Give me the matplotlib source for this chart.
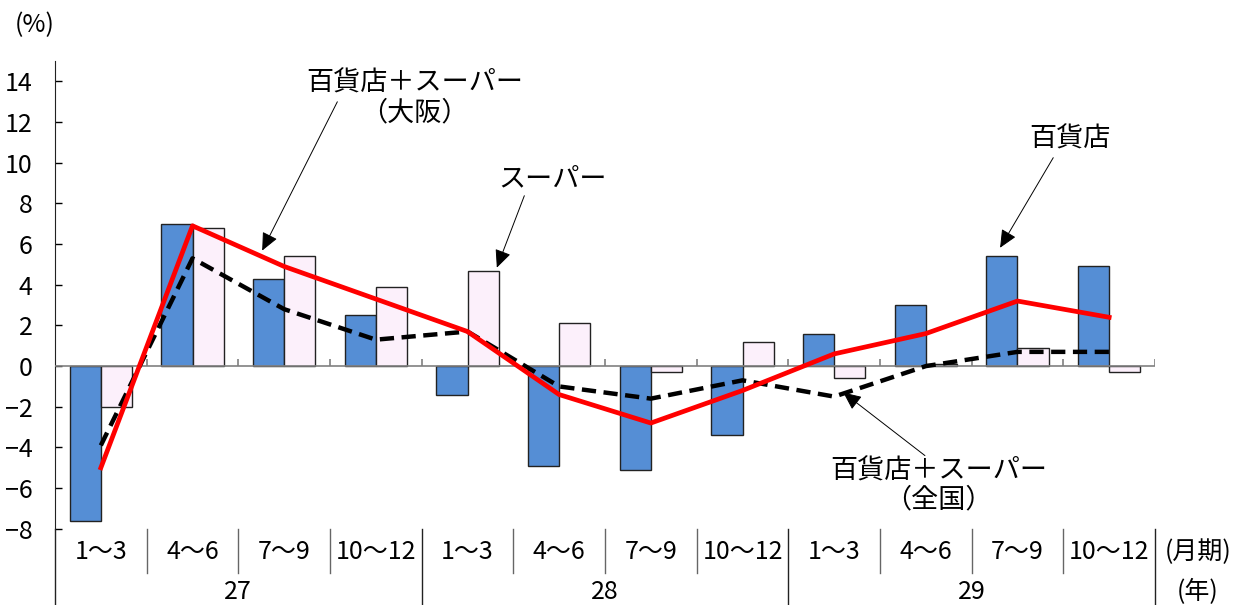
import numpy as np
import matplotlib
matplotlib.use("Agg")
import matplotlib.pyplot as plt
import matplotlib.transforms as mtransforms

plt.rcParams['font.family'] = ['Noto Sans CJK JP', 'DejaVu Sans']

# data
months = ["1～3", "4～6", "7～9", "10～12"] * 3
years = ["27", "28", "29"]
dept = [-7.6, 7.0, 4.3, 2.5, -1.4, -4.9, -5.1, -3.4, 1.6, 3.0, 5.4, 4.9]
supa = [-2.0, 6.8, 5.4, 3.9, 4.7, 2.1, -0.3, 1.2, -0.6, 0.1, 0.9, -0.3]
osaka = [-5.0, 6.9, 4.9, 3.3, 1.7, -1.4, -2.8, -1.2, 0.6, 1.6, 3.2, 2.4]
zenkoku = [-3.9, 5.3, 2.8, 1.3, 1.7, -1.0, -1.6, -0.7, -1.5, 0.0, 0.7, 0.7]
yticks = list(range(-8, 15, 2))

FS = 18
FA = 19.5

fig = plt.figure(figsize=(12.39, 6.05), dpi=100)
ax = fig.add_axes([0.0444, 0.126, 0.8878, 0.773])

x = np.arange(len(dept))
w = 0.34
ax.bar(x - w / 2, dept, w, color="#558ED5", edgecolor="#222222", linewidth=1, zorder=2)
ax.bar(x + w / 2, supa, w, color="#FCF0FB", edgecolor="#222222", linewidth=1, zorder=2)

ax.plot(x, zenkoku, color="black", lw=3.2, dashes=(3.2, 1.7), zorder=4)
ax.plot(x, osaka, color="#FF0000", lw=3.4, zorder=5)

ax.set_xlim(-0.5, 11.5)
ax.set_ylim(-8, 15)
ax.set_yticks(yticks)
ax.set_yticklabels([str(v).replace("-", "\u2212") for v in yticks])
ax.tick_params(axis="y", direction="in", length=5, width=1, pad=16, labelsize=FS)
ax.set_xticks([])
for s in ["top", "right", "bottom"]:
    ax.spines[s].set_visible(False)
ax.spines["left"].set_color("#222222")

# zero line with small ticks at group boundaries
bounds = np.arange(0.5, 12, 1.0)
ax.plot([-0.5, 11.5], [0, 0], color="#808080", lw=1.2, zorder=3)
ax.vlines(bounds, 0, 0.35, color="#808080", lw=1.2, zorder=3)

# category axis below
trans = mtransforms.blended_transform_factory(ax.transData, ax.transAxes)
for b in np.arange(0.5, 11, 1.0):
    if b in (3.5, 7.5):
        ax.plot([b, b], [0, -0.17], transform=trans, color="#222222", lw=1, clip_on=False)
    else:
        ax.plot([b, b], [0, -0.095], transform=trans, color="#666666", lw=1, clip_on=False)
ax.plot([11.5, 11.5], [0, -0.17], transform=trans, color="#222222", lw=1, clip_on=False)
ax.plot([-0.5, -0.5], [0, -0.17], transform=trans, color="#222222", lw=1, clip_on=False)

for i, m in enumerate(months):
    ax.text(i, -0.049, m, transform=trans, ha="center", va="center", fontsize=FS)
for j, yr in enumerate(years):
    ax.text(j * 4 + 1.5, -0.135, yr, transform=trans, ha="center", va="center", fontsize=FS)
ax.text(11.97, -0.049, "(月期)", transform=trans, ha="center", va="center", fontsize=FS)
ax.text(11.97, -0.135, "(年)", transform=trans, ha="center", va="center", fontsize=FS)

fig.text(35 / 1239, 1 - 25 / 605, "(%)", ha="center", va="center", fontsize=FS)

# annotations
arrow = dict(arrowstyle="-|>,head_length=0.55,head_width=0.25", color="black",
             lw=0.7, mutation_scale=20, shrinkA=0, shrinkB=0)
notes = [
    ("百貨店＋スーパー\n（大阪）", (3.42, 13.19), (2.58, 13.0), (1.76, 5.68)),
    ("スーパー", (4.93, 9.2), (4.62, 8.38), (4.32, 4.84)),
    ("百貨店", (10.57, 11.18), (10.39, 10.25), (9.81, 5.82)),
    ("百貨店＋スーパー\n（全国）", (9.14, -5.87), (8.99, -4.40), (8.10, -1.30)),
]
for txt, tpos, tail, tip in notes:
    ax.text(tpos[0], tpos[1], txt, ha="center", va="center", fontsize=FA,
            linespacing=1.1, zorder=6)
    ax.annotate("", xy=tip, xytext=tail, arrowprops=arrow, zorder=6)

fig.savefig("out.png", dpi=100)
